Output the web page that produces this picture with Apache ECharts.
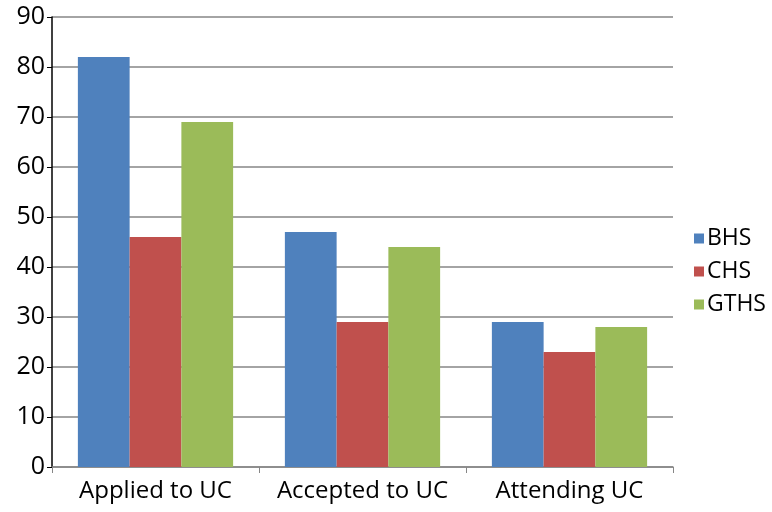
<!DOCTYPE html>
<html><head><meta charset="utf-8">
<script src="https://cdn.jsdelivr.net/npm/echarts@6/dist/echarts.min.js"></script>
<style>html,body{margin:0;padding:0;background:#fff}#c{width:772px;height:512px}</style>
</head><body><div id="c"></div>
<script>
const categories = ['Applied to UC', 'Accepted to UC', 'Attending UC'];
const seriesNames = ['BHS', 'CHS', 'GTHS'];
const BHS = [82, 47, 29];
const CHS = [46, 29, 23];
const GTHS = [69, 44, 28];
const colors = ['#4F81BD', '#C0504D', '#9BBB59'];
const font = 'Open Sans';
const chart = echarts.init(document.getElementById('c'));
chart.setOption({
  animation: false,
  textStyle: {fontFamily: font},
  grid: {left: 52, right: 99, top: 17, bottom: 45},
  legend: {
    orient: 'vertical', left: 689, top: 222,
    itemWidth: 10, itemHeight: 10, itemGap: 10, icon: 'rect',
    textStyle: {fontSize: 23, color: '#000', fontFamily: font, padding: [0,0,0,-2]},
    data: seriesNames
  },
  xAxis: {
    type: 'category', data: categories,
    axisLine: {lineStyle: {color: '#868686', width: 1.5}},
    axisTick: {show: true, length: 6, lineStyle: {color: '#868686'}},
    axisLabel: {fontSize: 24, color: '#000', margin: 12, fontFamily: font, interval: 0, hideOverlap: false}
  },
  yAxis: {
    type: 'value', min: 0, max: 90, interval: 10,
    axisLine: {show: true, lineStyle: {color: '#000', width: 1.5}},
    axisTick: {show: true, length: 5, lineStyle: {color: '#000'}},
    splitLine: {lineStyle: {color: '#868686', width: 1.5}},
    axisLabel: {fontSize: 25, color: '#000', margin: 7, fontFamily: font}
  },
  series: [
    {name: 'BHS', type: 'bar', data: BHS, itemStyle: {color: colors[0]}, barGap: '0%', barCategoryGap: '25%'},
    {name: 'CHS', type: 'bar', data: CHS, itemStyle: {color: colors[1]}, barGap: '0%', barCategoryGap: '25%'},
    {name: 'GTHS', type: 'bar', data: GTHS, itemStyle: {color: colors[2]}, barGap: '0%', barCategoryGap: '25%'}
  ]
});
</script></body></html>
